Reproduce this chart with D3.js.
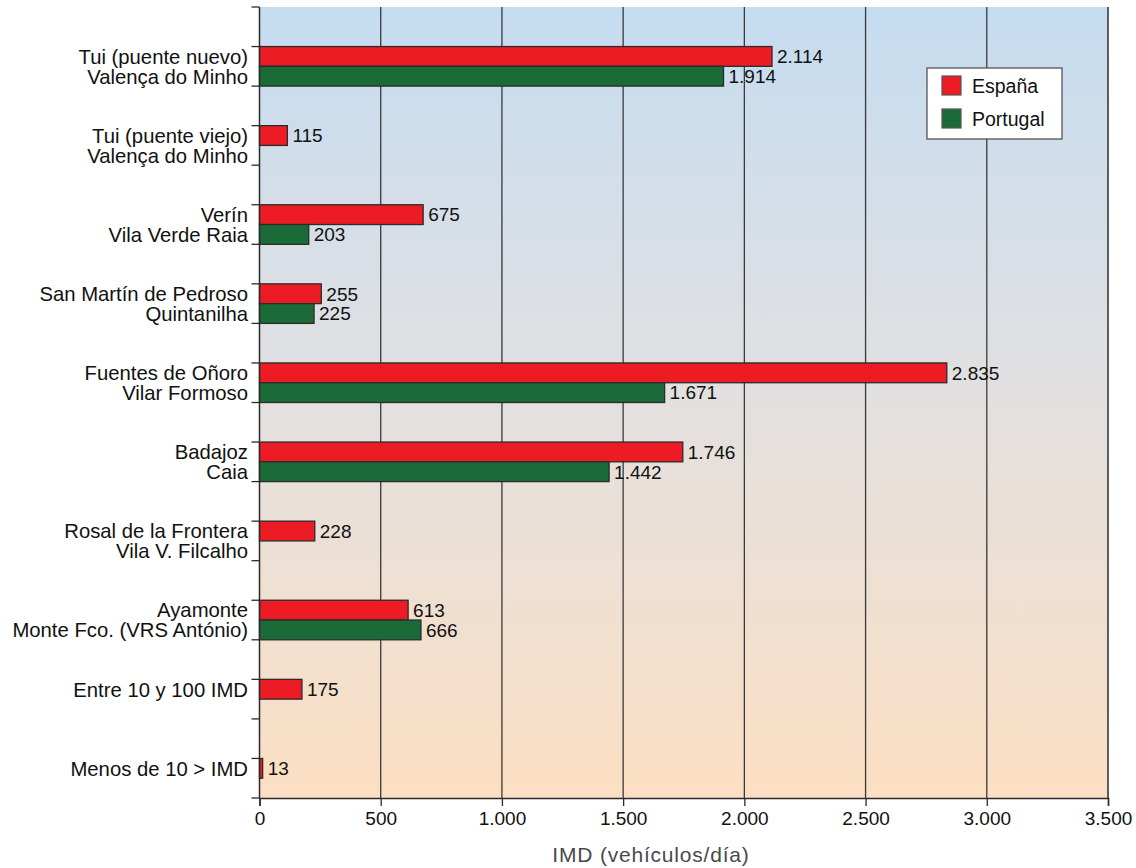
<!DOCTYPE html>
<html>
<head>
<meta charset="utf-8">
<script src="https://cdn.jsdelivr.net/npm/d3@7"></script>
<style>
  html, body { margin: 0; padding: 0; background: #fff; }
  svg { display: block; font-family: "Liberation Sans", "DejaVu Sans", sans-serif; }
</style>
</head>
<body>
<svg id="chart" width="1136" height="868"></svg>
<script>
// Border crossings: two-line labels (Spanish side / Portuguese side)
const labelsTop = [
  "Tui (puente nuevo)", "Tui (puente viejo)", "Verín", "San Martín de Pedroso",
  "Fuentes de Oñoro", "Badajoz", "Rosal de la Frontera", "Ayamonte",
  "Entre 10 y 100 IMD", "Menos de 10 > IMD"
];
const labelsBottom = [
  "Valença do Minho", "Valença do Minho", "Vila Verde Raia", "Quintanilha",
  "Vilar Formoso", "Caia", "Vila V. Filcalho", "Monte Fco. (VRS António)",
  "", ""
];
// IMD (vehicles/day)
const espana   = [2114, 115, 675, 255, 2835, 1746, 228, 613, 175, 13];
const portugal = [1914, null, 203, 225, 1671, 1442, null, 666, null, null];
const xTicks = [0, 500, 1000, 1500, 2000, 2500, 3000, 3500];
const seriesNames = ["España", "Portugal"];
const seriesColors = ["#ED1C24", "#1A6B38"];

const svg = d3.select("#chart");
const plotLeft = 259.5, plotRight = 1108, plotTop = 7, plotBottom = 798;

const locale = d3.formatLocale({ decimal: ",", thousands: ".", grouping: [3], currency: ["", "€"] });
const fmt = locale.format(",d");

const x = d3.scaleLinear().domain([0, 3500]).range([plotLeft, plotRight]);
// each crossing occupies one band: upper half empty, lower half holds the two bars
const groups = d3.scaleBand().domain(d3.range(labelsTop.length)).range([plotTop, plotBottom]);
const gh = groups.bandwidth();
const rowH = gh / 4;

// background gradient
const defs = svg.append("defs");
const grad = defs.append("linearGradient").attr("id", "bg").attr("x1", 0).attr("y1", 0).attr("x2", 0).attr("y2", 1);
grad.append("stop").attr("offset", "0%").attr("stop-color", "#C5DCF0");
grad.append("stop").attr("offset", "45%").attr("stop-color", "#E0E0E2");
grad.append("stop").attr("offset", "100%").attr("stop-color", "#FCDFC3");
svg.append("rect").attr("x", plotLeft).attr("y", plotTop).attr("width", plotRight - plotLeft).attr("height", plotBottom - plotTop)
  .attr("fill", "url(#bg)");

// vertical gridlines
svg.append("g").selectAll("line").data(xTicks.slice(1)).join("line")
  .attr("x1", d => x(d)).attr("x2", d => x(d)).attr("y1", plotTop).attr("y2", plotBottom)
  .attr("stroke", "#3a3a3a").attr("stroke-width", 1.3);

// bars
const barRows = [];
espana.forEach((v, i) => { if (v != null) barRows.push({ i, s: 0, v }); });
portugal.forEach((v, i) => { if (v != null) barRows.push({ i, s: 1, v }); });
const barY = d => groups(d.i) + gh / 2 + d.s * rowH;

svg.append("g").selectAll("rect").data(barRows).join("rect")
  .attr("x", x(0)).attr("y", d => barY(d))
  .attr("width", d => x(d.v) - x(0)).attr("height", rowH)
  .attr("fill", d => seriesColors[d.s])
  .attr("stroke", "#2b2b2b").attr("stroke-width", 1.3);

svg.append("g").selectAll("text").data(barRows).join("text")
  .attr("x", d => x(d.v) + 5).attr("y", d => barY(d) + rowH / 2)
  .attr("dy", "0.36em")
  .attr("font-size", 19).attr("fill", "#111")
  .text(d => fmt(d.v));

// left axis with ticks at every half band
const yTicks = d3.range(labelsTop.length * 2 + 1).map(k => plotTop + k * gh / 2);
svg.append("line").attr("x1", plotLeft).attr("x2", plotLeft).attr("y1", plotTop).attr("y2", plotBottom)
  .attr("stroke", "#2b2b2b").attr("stroke-width", 1.5);
svg.append("g").selectAll("line").data(yTicks).join("line")
  .attr("x1", plotLeft - 8).attr("x2", plotLeft).attr("y1", d => d).attr("y2", d => d)
  .attr("stroke", "#2b2b2b").attr("stroke-width", 1.3);
// right border
svg.append("line").attr("x1", plotRight).attr("x2", plotRight).attr("y1", plotTop).attr("y2", plotBottom)
  .attr("stroke", "#555").attr("stroke-width", 1.5);

// category labels
const lab = svg.append("g").attr("font-size", 20.3).attr("fill", "#111").attr("text-anchor", "end");
labelsTop.forEach((t, i) => {
  lab.append("text").attr("x", 248).attr("y", groups(i) + gh / 2 + rowH / 2).attr("dy", "0.36em").text(t);
  if (labelsBottom[i]) lab.append("text").attr("x", 248).attr("y", groups(i) + gh / 2 + rowH * 1.5).attr("dy", "0.36em").text(labelsBottom[i]);
});

// bottom axis
const xAxis = d3.axisBottom(x).tickValues(xTicks).tickSize(8).tickPadding(6).tickFormat(fmt);
const gx = svg.append("g").attr("transform", `translate(0,${plotBottom})`).call(xAxis);
gx.select(".domain").attr("stroke", "#2b2b2b").attr("stroke-width", 1.5);
gx.selectAll(".tick line").attr("stroke", "#2b2b2b").attr("stroke-width", 1.3);
gx.selectAll(".tick text").attr("font-size", 19).attr("fill", "#111")
  .attr("font-family", "'Liberation Sans', 'DejaVu Sans', sans-serif");

svg.append("text").attr("x", 651).attr("y", 862).attr("text-anchor", "middle")
  .attr("font-size", 21).attr("letter-spacing", 0.8).attr("fill", "#4a4a4a").text("IMD (vehículos/día)");

// legend
const lg = svg.append("g").attr("transform", "translate(927,68)");
lg.append("rect").attr("width", 135).attr("height", 71).attr("fill", "#fff")
  .attr("stroke", "#555").attr("stroke-width", 1.3);
seriesNames.forEach((n, k) => {
  lg.append("rect").attr("x", 15).attr("y", 8 + k * 33).attr("width", 19).attr("height", 19)
    .attr("fill", seriesColors[k]).attr("stroke", "#555").attr("stroke-width", 1.2);
  lg.append("text").attr("x", 45).attr("y", 17.5 + k * 33).attr("dy", "0.36em")
    .attr("font-size", 19.5).attr("fill", "#111").text(n);
});
</script>
</body>
</html>
